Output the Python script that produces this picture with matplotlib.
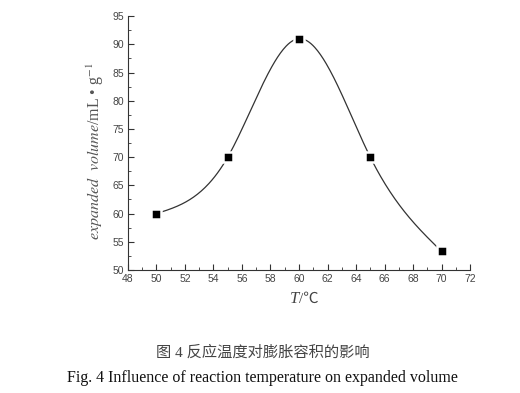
import numpy as np
import matplotlib
matplotlib.use("Agg")
import matplotlib.pyplot as plt
from matplotlib.ticker import MultipleLocator

plt.rcParams['mathtext.fontset'] = 'stix'

# data
temp = [50, 55, 60, 65, 70]
volume = [60, 70, 91, 70, 53.3]

xticks = list(range(48, 73, 2))
yticks = list(range(50, 96, 5))


def natural_spline(x, y, n=300):
    # plain natural cubic spline through the points (like Origin's spline line)
    x = np.asarray(x, float)
    y = np.asarray(y, float)
    h = np.diff(x)
    m = len(x)
    A = np.zeros((m, m))
    b = np.zeros(m)
    A[0, 0] = A[-1, -1] = 1
    for i in range(1, m - 1):
        A[i, i - 1] = h[i - 1]
        A[i, i] = 2 * (h[i - 1] + h[i])
        A[i, i + 1] = h[i]
        b[i] = 6 * ((y[i + 1] - y[i]) / h[i] - (y[i] - y[i - 1]) / h[i - 1])
    M = np.linalg.solve(A, b)
    xs = np.linspace(x[0], x[-1], n)
    idx = np.clip(np.searchsorted(x, xs) - 1, 0, m - 2)
    x0, x1 = x[idx], x[idx + 1]
    hh = x1 - x0
    t0, t1 = x1 - xs, xs - x0
    ys = (M[idx] * t0**3 + M[idx + 1] * t1**3) / (6 * hh) \
        + (y[idx] / hh - M[idx] * hh / 6) * t0 \
        + (y[idx + 1] / hh - M[idx + 1] * hh / 6) * t1
    return xs, ys


fig = plt.figure(figsize=(5.2, 3.93), dpi=100)
ax = fig.add_axes([0.246, 0.313, 0.658, 0.646])

xs, ys = natural_spline(temp, volume)
ax.plot(xs, ys, color='#333333', lw=0.9, zorder=2)
ax.plot(temp, volume, 's', color='black', ms=6.5, mec='white', mew=1.8, zorder=3)

ax.set_xlim(48, 72)
ax.set_ylim(50, 95)
ax.set_xticks(xticks)
ax.set_yticks(yticks)
ax.xaxis.set_minor_locator(MultipleLocator(1))
ax.yaxis.set_minor_locator(MultipleLocator(2.5))
ax.tick_params(which='both', direction='in', color='#333333', labelsize=7.5,
               labelcolor='#444444', pad=3)
ax.tick_params(which='major', length=4)
ax.tick_params(which='minor', length=2)
for lab in ax.get_xticklabels() + ax.get_yticklabels():
    lab.set_family('Liberation Sans')
for s in ['top', 'right']:
    ax.spines[s].set_visible(False)
for s in ['left', 'bottom']:
    ax.spines[s].set_color('#333333')

ax.set_ylabel(r'$\mathit{expanded\ \ volume}$/mL • g$^{-1}$', fontsize=11.5,
              color='#555555', family='Liberation Serif')
ax.yaxis.set_label_coords(-0.065, 0.47)

# x label: italic T plus /℃ (℃ needs a font that has it)
ax.text(0.5, -0.115, 'T', transform=ax.transAxes, ha='right', va='center',
        fontsize=12, style='italic', family='Liberation Serif', color='#444444')
ax.text(0.5, -0.115, '/℃', transform=ax.transAxes, ha='left', va='center',
        fontsize=11, family=['Liberation Serif', 'Noto Sans CJK SC'], color='#444444')

fig.text(0.506, 0.102, '图 4 反应温度对膨胀容积的影响', ha='center', va='center',
         fontsize=11, color='#444444', family=['Liberation Serif', 'Noto Sans CJK SC'])
fig.text(0.505, 0.038, 'Fig. 4 Influence of reaction temperature on expanded volume',
         ha='center', va='center', fontsize=11.5,
         family='Liberation Serif', color='#111111')

fig.savefig('out.png', dpi=100)
